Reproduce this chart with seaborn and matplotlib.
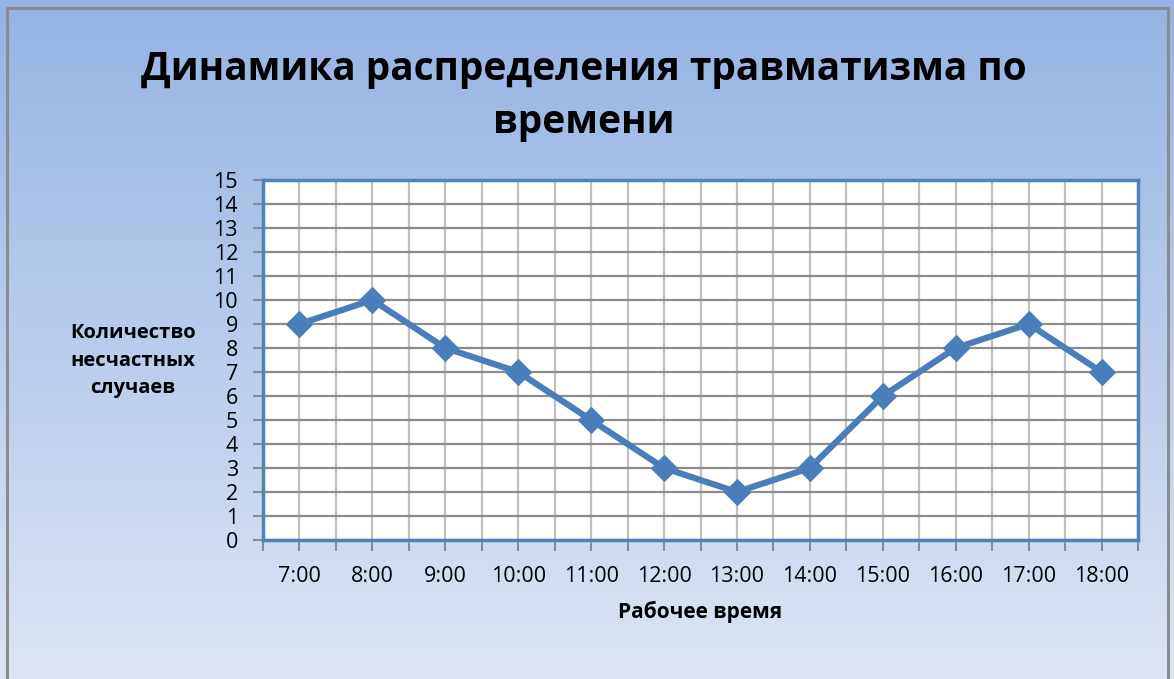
import numpy as np
import pandas as pd
import matplotlib
matplotlib.use("Agg")
import matplotlib.pyplot as plt
import seaborn as sns
from matplotlib.patches import Rectangle
from matplotlib.colors import LinearSegmentedColormap
from matplotlib.ticker import MultipleLocator

# data
hours = ["7:00", "8:00", "9:00", "10:00", "11:00", "12:00",
         "13:00", "14:00", "15:00", "16:00", "17:00", "18:00"]
accidents = [9, 10, 8, 7, 5, 3, 2, 3, 6, 8, 9, 7]

title = "Динамика распределения травматизма по\nвремени"
x_label = "Рабочее время"
y_label = "Количество\nнесчастных\nслучаев"

sns.set_theme(style="white")
plt.rcParams["font.family"] = ["Open Sans", "DejaVu Sans"]
plt.rcParams["text.color"] = "black"
plt.rcParams["xtick.color"] = "black"
plt.rcParams["ytick.color"] = "black"
plt.rcParams["axes.labelcolor"] = "black"

W, H = 1174, 679
fig = plt.figure(figsize=(W / 100, H / 100), dpi=100)

# gradient background
bg = fig.add_axes([0, 0, 1, 1], zorder=-10)
cmap = LinearSegmentedColormap.from_list("bg", ["#95b3e3", "#dde5f4"])
bg.imshow(np.linspace(0, 1, 256).reshape(-1, 1), aspect="auto", cmap=cmap,
          extent=[0, 1, 0, 1])
bg.set_axis_off()
fig.add_artist(Rectangle((7 / W, -0.05), 1161 / W, 1.05 - 8 / H,
                         transform=fig.transFigure, fill=False,
                         edgecolor="#8c8c8c", linewidth=2.2))

ax = fig.add_axes([263 / W, 1 - 540 / H, (1138 - 263) / W, (540 - 180) / H])
ax.set_facecolor("white")

df = pd.DataFrame({"hour": hours, "count": accidents})
sns.lineplot(data=df, x="hour", y="count", ax=ax, color="#4a7ebb",
             linewidth=4.5, marker="D", markersize=13,
             markeredgecolor="#4a7ebb", zorder=5)

ax.set_xlim(-0.5, len(hours) - 0.5)
ax.set_ylim(0, 15)
ax.yaxis.set_major_locator(MultipleLocator(1))
ax.set_xticks(np.arange(-0.5, len(hours), 1), minor=False)
ax.set_xticks(np.arange(0, len(hours), 1), minor=True)
ax.set_xticklabels([""] * (len(hours) + 1))
ax.set_xticklabels(hours, minor=True)

ax.grid(True, axis="y", color="#8c8c8c", linewidth=1.6)
ax.grid(True, axis="x", which="both", color="#bfbfbf", linewidth=1.6)
ax.set_axisbelow(True)

for s in ax.spines.values():
    s.set_visible(True)
    s.set_color("#4f81bd")
    s.set_linewidth(2.5)

ax.tick_params(axis="y", which="major", left=True, length=7, width=1.5,
               color="#8c8c8c", labelsize=15.5, pad=11)
ax.tick_params(axis="x", which="both", bottom=True, length=8, width=1.5,
               color="#8c8c8c", labelsize=15.5, pad=11)
ax.set_xlabel(x_label, fontsize=15, fontweight="bold", labelpad=10)
ax.set_ylabel("")

fig.text(133 / W, 1 - 361 / H, y_label, fontsize=14.5, fontweight="bold",
         ha="center", va="center", linespacing=1.5)
fig.text(584 / W, 1 - 96 / H, title, fontsize=28, fontweight="bold",
         ha="center", va="center", linespacing=1.45)

fig.savefig("out.png", dpi=100)
